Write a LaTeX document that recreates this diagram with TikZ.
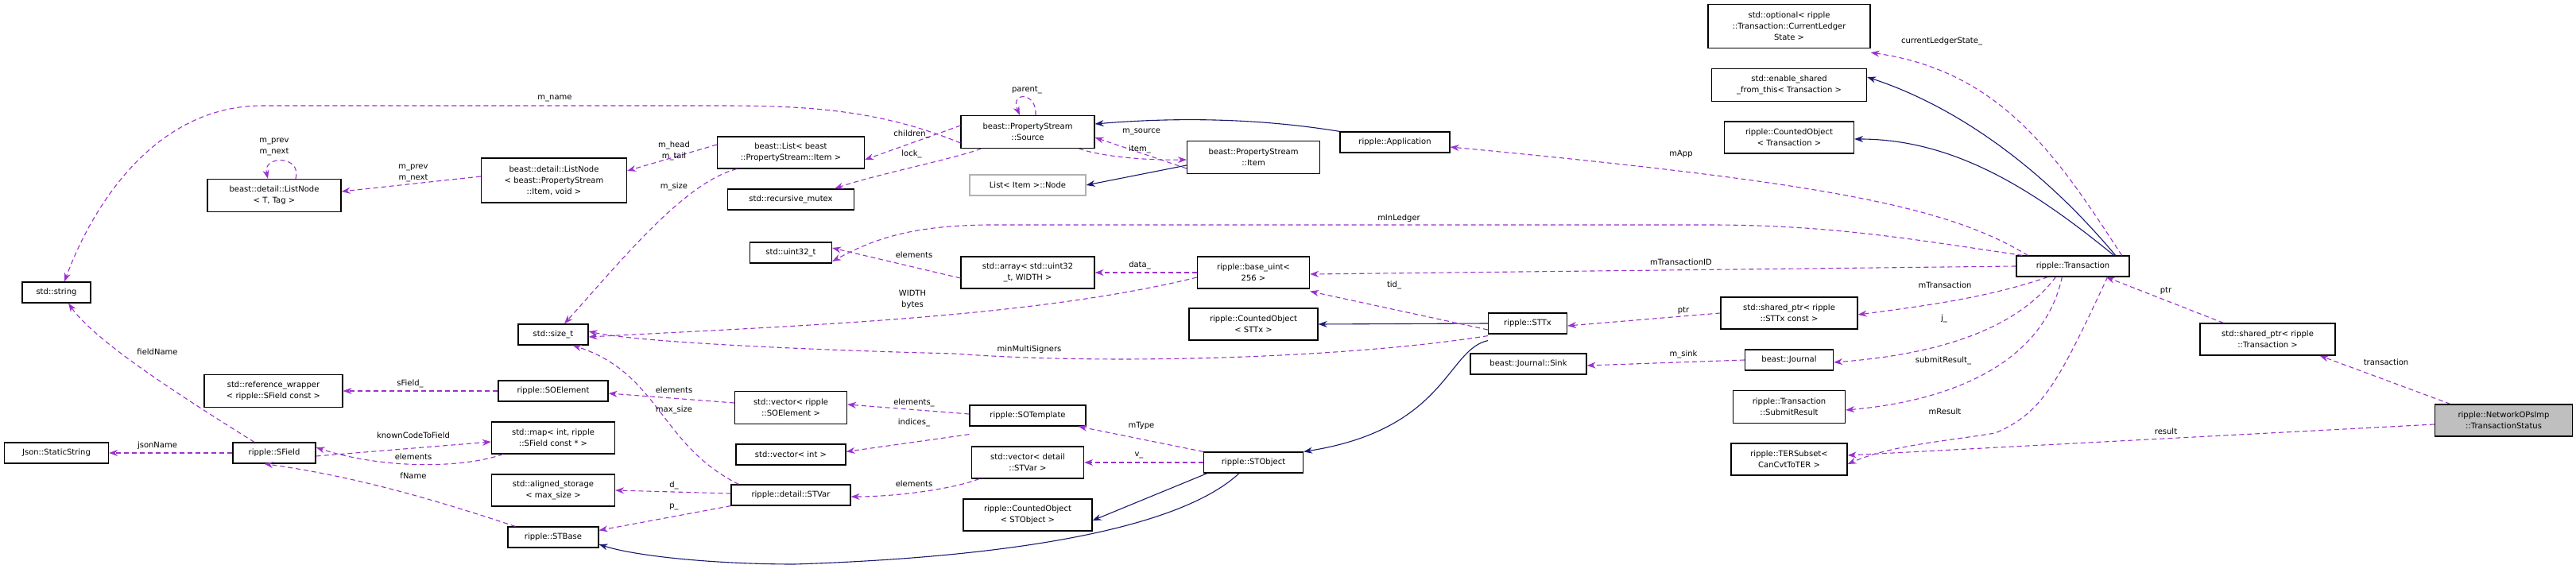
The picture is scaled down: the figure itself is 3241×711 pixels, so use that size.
\documentclass[tikz,border=0pt]{standalone}
\usepackage{fontspec}
\setmainfont{DejaVu Sans}
\usetikzlibrary{arrows.meta}

\definecolor{dep}{HTML}{9A32CD}
\definecolor{inh}{HTML}{191970}
\tikzset{
  box/.style={draw=black, line width=1.2pt, fill=white, inner sep=1pt, align=center,
    minimum height=26, font=\fontsize{10}{14}\selectfont},
  gbox/.style={box, draw=gray!60},
  sbox/.style={box, fill=gray!50},
  lab/.style={inner sep=0pt, align=center, font=\fontsize{10}{14}\selectfont},
  uses/.style={draw=dep, dashed, dash pattern=on 6pt off 4pt, line width=1.1pt,
    -{Stealth[length=11pt,width=8pt]}},
  isa/.style={draw=inh, line width=1.1pt, -{Stealth[length=11pt,width=8pt]}},
}

\begin{document}
\begin{tikzpicture}[x=1pt,y=-1pt]
  \useasboundingbox (0,0) rectangle (3241,711);

  % classes
  \node[box, minimum width=86] (str) at (71,368) {std::string};
  \node[box, minimum width=168, minimum height=41] (lnt) at (345,246) {beast::detail::ListNode\\< T, Tag >};
  \node[box, minimum width=183, minimum height=56] (lnp) at (697,227) {beast::detail::ListNode\\< beast::PropertyStream\\::Item, void >};
  \node[box, minimum width=185, minimum height=40] (lst) at (995,192) {beast::List< beast\\::PropertyStream::Item >};
  \node[box, minimum width=159] (mtx) at (995,251) {std::recursive\_mutex};
  \node[box, minimum width=103] (u32) at (995,318) {std::uint32\_t};
  \node[box, minimum width=88] (szt) at (696,421) {std::size\_t};
  \node[box, minimum width=131] (jss) at (71,570) {Json::StaticString};
  \node[box, minimum width=104] (sfd) at (345,570) {ripple::SField};
  \node[box, minimum width=174, minimum height=41] (rfw) at (344,492) {std::reference\_wrapper\\< ripple::SField const >};
  \node[box, minimum width=138] (soe) at (696,492) {ripple::SOElement};
  \node[box, minimum width=155, minimum height=40] (map) at (696,551) {std::map< int, ripple\\::SField const * >};
  \node[box, minimum width=155, minimum height=40] (als) at (696,617) {std::aligned\_storage\\< max\_size >};
  \node[box, minimum width=114] (stb) at (696,676) {ripple::STBase};
  \node[box, minimum width=141, minimum height=41] (vse) at (995,513) {std::vector< ripple\\::SOElement >};
  \node[box, minimum width=138] (vin) at (995,572) {std::vector< int >};
  \node[box, minimum width=150] (stv) at (995,623) {ripple::detail::STVar};

  \node[box, minimum width=168, minimum height=41] (src) at (1293,166) {beast::PropertyStream\\::Source};
  \node[box, minimum width=167, minimum height=41] (itm) at (1577,198) {beast::PropertyStream\\::Item};
  \node[gbox, minimum width=146] (nod) at (1293,233) {List< Item >::Node};
  \node[box, minimum width=138] (app) at (1755,179) {ripple::Application};
  \node[box, minimum width=168, minimum height=40] (arr) at (1293,343) {std::array< std::uint32\\\_t, WIDTH >};
  \node[box, minimum width=141, minimum height=40] (bui) at (1577,343) {ripple::base\_uint<\\256 >};
  \node[box, minimum width=162, minimum height=40] (cst) at (1577,408) {ripple::CountedObject\\< STTx >};
  \node[box, minimum width=99] (stx) at (1922,407) {ripple::STTx};
  \node[box, minimum width=146] (snk) at (1923,458) {beast::Journal::Sink};
  \node[box, minimum width=146] (sot) at (1293,523) {ripple::SOTemplate};
  \node[box, minimum width=141, minimum height=40] (vsv) at (1293,582) {std::vector< detail\\::STVar >};
  \node[box, minimum width=162, minimum height=40] (cso) at (1293,648) {ripple::CountedObject\\< STObject >};
  \node[box, minimum width=125] (sto) at (1577,582) {ripple::STObject};

  \node[box, minimum width=204, minimum height=55] (opt) at (2251,33) {std::optional< ripple\\::Transaction::CurrentLedger\\State >};
  \node[box, minimum width=195, minimum height=41] (esf) at (2251,107) {std::enable\_shared\\\_from\_this< Transaction >};
  \node[box, minimum width=163, minimum height=40] (ctr) at (2251,173) {ripple::CountedObject\\< Transaction >};
  \node[box, minimum width=142] (trn) at (2608,335) {ripple::Transaction};
  \node[box, minimum width=172, minimum height=40] (spx) at (2251,394) {std::shared\_ptr< ripple\\::STTx const >};
  \node[box, minimum width=111] (jrn) at (2251,453) {beast::Journal};
  \node[box, minimum width=141, minimum height=41] (sbr) at (2251,512) {ripple::Transaction\\::SubmitResult};
  \node[box, minimum width=146, minimum height=40] (ter) at (2251,578) {ripple::TERSubset<\\CanCvtToTER >};
  \node[box, minimum width=170, minimum height=40] (spt) at (2853,427) {std::shared\_ptr< ripple\\::Transaction >};
  \node[sbox, minimum width=173, minimum height=40] (tst) at (3150,529) {ripple::NetworkOPsImp\\::TransactionStatus};

  % inheritance
  \draw[isa] (app.north west) .. controls (1560,145) and (1450,150) .. (src.east |- 0,156);
  \draw[isa] ([yshift=-10]itm.west) -- (nod.east);
  \draw[isa] (stx.west) -- (cst.east);
  \draw[isa] ([yshift=-8]stx.south west) .. controls (1820,440) and (1820,540) .. (sto.north east);
  \draw[isa] ([xshift=5]sto.south west) -- ([yshift=-7]cso.east);
  \draw[isa] ([xshift=-18]sto.south) .. controls (1490,660) and (1300,700) .. (1000,710) .. controls (900,710) and (800,700) .. ([yshift=-9]stb.east);
  \draw[isa] ([xshift=-18]trn.north east) .. controls (2560,200) and (2450,130) .. ([yshift=10]esf.east);
  \draw[isa] ([xshift=-20]trn.north east) .. controls (2560,240) and (2460,175) .. ([yshift=-2]ctr.east);

  % members
  \draw[uses] ([yshift=-14]src.west) .. controls (1100,135) and (1000,133) .. (900,133) -- (330,133) .. controls (200,133) and (120,250) .. ([xshift=10]str.north);
  \draw[uses] ([xshift=10]src.north) .. controls (1305,115) and (1270,115) .. ([xshift=-10]src.north);
  \draw[uses] ([yshift=8]src.west) -- ([yshift=-9]lst.east);
  \draw[uses] ([xshift=26]src.south west) .. controls (1200,200) and (1100,220) .. ([xshift=55]mtx.north);
  \draw[uses] ([yshift=-14]itm.west) -- ([yshift=-7]src.east);
  \draw[uses] ([xshift=-20]src.south east) .. controls (1380,195) and (1430,202) .. ([yshift=-3]itm.west);
  \draw[uses] ([yshift=10]lst.west) -- ([yshift=12]lnp.east);
  \draw[uses] ([yshift=5]lnp.west) -- ([yshift=5]lnt.east);
  \draw[uses] ([xshift=27]lnt.north) .. controls (380,195) and (330,195) .. ([xshift=-8]lnt.north);
  \draw[uses] ([xshift=25]lst.south west) .. controls (860,230) and (780,330) .. ([xshift=14]szt.north);
  \draw[uses] ([yshift=-6]bui.west) .. controls (1300,400) and (1000,410) .. ([yshift=-3]szt.east);
  \draw[uses] ([yshift=-2]stx.south west) .. controls (1700,450) and (1400,460) .. (1200,445) .. controls (1000,440) and (800,430) .. ([yshift=4]szt.east);
  \draw[uses] ([xshift=10]stv.north west) .. controls (830,560) and (830,470) .. ([xshift=-20]szt.south east);
  \draw[uses] ([yshift=-7]arr.west) -- ([yshift=6]u32.east);
  \draw[uses] ([xshift=8]trn.north west) .. controls (2400,300) and (2300,283) .. (2150,283) -- (1250,283) .. controls (1150,283) and (1100,300) .. ([yshift=-11]u32.east);
  \draw[uses] (bui.west) -- (arr.east);
  \draw[uses] (trn.west) -- ([yshift=-2]bui.east);
  \draw[uses] ([yshift=-8]stx.west) -- ([yshift=-3]bui.south east);
  \draw[uses] (spx.west) -- ([yshift=-3]stx.east);
  \draw[uses] (jrn.west) -- ([yshift=-2]snk.east);
  \draw[uses] ([xshift=15]trn.north west) .. controls (2450,260) and (2300,230) .. ([yshift=-6]app.east);
  \draw[uses] ([xshift=-10]trn.north east) .. controls (2590,200) and (2520,90) .. ([yshift=-5]opt.south east);
  \draw[uses] ([xshift=40]trn.south west) .. controls (2500,375) and (2420,385) .. ([yshift=-2]spx.east);
  \draw[uses] ([xshift=50]trn.south west) .. controls (2540,410) and (2450,445) .. ([yshift=-3]jrn.east);
  \draw[uses] ([xshift=58]trn.south west) .. controls (2570,460) and (2450,505) .. ([yshift=-4]sbr.east);
  \draw[uses] ([xshift=-28]trn.south east) .. controls (2590,480) and (2570,520) .. (2510,545) .. controls (2450,555) and (2380,560) .. ([yshift=-6]ter.east);
  \draw[uses] ([xshift=30]spt.north west) -- ([xshift=-30]trn.south east);
  \draw[uses] ([xshift=20]tst.north west) -- ([xshift=-20]spt.south east);
  \draw[uses] ([yshift=-5]tst.west) -- ([yshift=5]ter.east);
  \draw[uses] ([yshift=2]sot.west) -- ([yshift=4]vse.east);
  \draw[uses] ([yshift=-10]sot.south west) -- ([yshift=-10]vin.north east);
  \draw[uses] ([yshift=6]vse.west) -- ([yshift=-3]soe.east);
  \draw[uses] (soe.west) -- (rfw.east);
  \draw[uses] (sto.north west) -- ([xshift=-10]sot.south east);
  \draw[uses] (sto.west) -- (vsv.east);
  \draw[uses] ([xshift=10]vsv.south west) .. controls (1200,615) and (1130,625) .. ([yshift=-2]stv.east);
  \draw[uses] ([yshift=2]stv.west) -- (als.east);
  \draw[uses] (stv.south west) -- ([yshift=-5]stb.north east);
  \draw[uses] ([xshift=-25]sfd.north) .. controls (230,500) and (120,430) .. ([xshift=15]str.south);
  \draw[uses] (sfd.west) -- (jss.east);
  \draw[uses] ([yshift=-4]sfd.east) -- ([yshift=-5]map.west);
  \draw[uses] ([xshift=15]map.south west) .. controls (580,590) and (480,590) .. ([yshift=7]sfd.east);
  \draw[uses] ([xshift=10]stb.north west) .. controls (550,630) and (450,600) .. ([xshift=40]sfd.south west);

  % labels
  \node[lab] (lname) at (698,124) {m\_name};
  \node[lab] (lparent) at (1292,113) {parent\_};
  \node[lab] (lchild) at (1147,169) {children\_};
  \node[lab] (llock) at (1147,194) {lock\_};
  \node[lab] (lmsrc) at (1436,166) {m\_source};
  \node[lab] (litem) at (1434,188) {item\_};
  \node[lab] (lhead) at (848,190) {m\_head\\m\_tail};
  \node[lab] (lprev) at (520,218) {m\_prev\\m\_next};
  \node[lab] (lprev2) at (345,185) {m\_prev\\m\_next};
  \node[lab] (lmsize) at (848,235) {m\_size};
  \node[lab] (lwidth) at (1148,377) {WIDTH\\bytes};
  \node[lab] (lmulti) at (1295,440) {minMultiSigners};
  \node[lab] (lmaxs) at (848,516) {max\_size};
  \node[lab] (lelem1) at (1150,321) {elements};
  \node[lab] (lledg) at (1760,275) {mInLedger};
  \node[lab] (ldata) at (1434,334) {data\_};
  \node[lab] (ltid) at (2115,330) {mTransactionID};
  \node[lab] (ltid2) at (1754,359) {tid\_};
  \node[lab] (lptr1) at (2118,391) {ptr};
  \node[lab] (lsink) at (2118,446) {m\_sink};
  \node[lab] (lapp) at (2115,194) {mApp};
  \node[lab] (lcls) at (2443,52) {currentLedgerState\_};
  \node[lab] (ltrx) at (2447,359) {mTransaction};
  \node[lab] (lj) at (2446,401) {j\_};
  \node[lab] (lsub) at (2445,454) {submitResult\_};
  \node[lab] (lres) at (2447,518) {mResult};
  \node[lab] (lptr2) at (2725,366) {ptr};
  \node[lab] (ltran) at (3002,456) {transaction};
  \node[lab] (lresult) at (2725,543) {result};
  \node[lab] (lelem2) at (1150,507) {elements\_};
  \node[lab] (lind) at (1150,532) {indices\_};
  \node[lab] (lelem3) at (848,491) {elements};
  \node[lab] (lsf) at (516,483) {sField\_};
  \node[lab] (ltype) at (1436,536) {mType};
  \node[lab] (lv) at (1433,573) {v\_};
  \node[lab] (lelem4) at (1150,609) {elements};
  \node[lab] (ld) at (848,611) {d\_};
  \node[lab] (lp) at (848,638) {p\_};
  \node[lab] (lfn) at (198,443) {fieldName};
  \node[lab] (ljson) at (198,561) {jsonName};
  \node[lab] (lknown) at (520,548) {knownCodeToField};
  \node[lab] (lelem5) at (520,575) {elements};
  \node[lab] (lfname) at (520,599) {fName};
\end{tikzpicture}
\end{document}
